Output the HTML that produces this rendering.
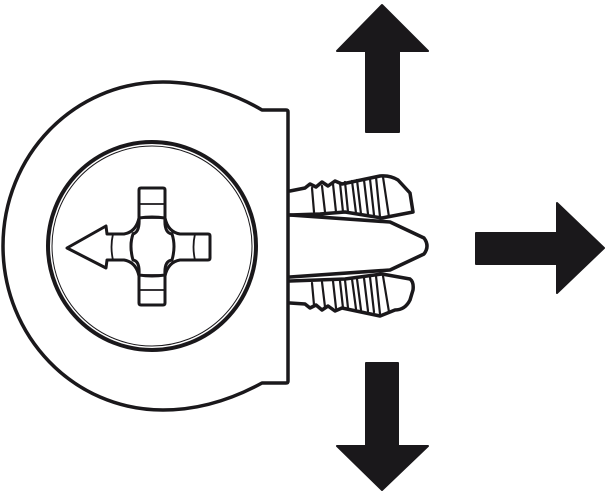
<!DOCTYPE html>
<html><head><style>html,body{margin:0;padding:0;background:#fff}svg{display:block}</style></head><body>
<svg width="608" height="492" viewBox="0 0 608 492" xmlns="http://www.w3.org/2000/svg">
<g fill="none" stroke="#1a181b" stroke-width="3.5" stroke-linejoin="round" stroke-linecap="round">
<path d="M262,110 L286,110 Q288,110 288,112 L288,381 Q288,383 286,383 L262,383 C240,395 205,410 163,410 C73,410 3,336 3,246 C3,156 73,82 163,82 C205,82 240,97 262,110 Z"/>
<circle cx="152" cy="246" r="104" stroke-width="4"/>
<circle cx="152" cy="246" r="100" stroke-width="1"/>
<path d="M141,188 L163,188 Q165,188 165,190 L165,218 Q168,232 180,234 L208,234 Q210,234 210,236 L210,258 Q210,260 208,260 L180,260 Q168,262 165,276 L165,303 Q165,305 163,305 L141,305 Q139,305 139,303 L139,276 Q136,262 124,260 L107,260 L106,268 L67,248 L106,226 L107,234 L124,234 Q136,232 139,218 L139,190 Q139,188 141,188 Z" stroke-width="3"/>
<path d="M133,233 Q128,246 133,260 M172,233 Q176,246 172,260 M139,275 L165,275 M139,218 L165,218 M139,290 L165,290 M139,204 L165,204 M195,234 Q192,247 195,260 M113,234 Q110,247 113,260" stroke-width="1.8"/>
<path d="M139,218 Q152,216 165,218 Q164,233 172,234 Q176,246 172,260 Q164,261 165,275 Q152,277 139,275 Q140,261 133,260 Q129,246 133,234 Q140,232 139,218 Z" stroke-width="3"/>
<path d="M290,191 L305,188 L310,184 L316,187 L322,182 L328,186 L335,181 L342,184 L380,176 Q390,175 398,180 L410,193 L413,212 L382,218 L345,212 L320,214 L290,215"/>
<path d="M312,188 L314,212 M322,186 L325,212 M333,184 L336,212 M340,183 L343,212 M345,182 L348,212 M352,181 L356,213 M357,180 L361,214 M364,180 L368,214 M370,179 L374,215 M376,177 L380,217 M383,177 L389,217" stroke-width="2.2"/>
<path d="M290,215 L390,222 L424,238 Q430,246 424,254 L390,270 L290,277"/>
<path d="M290,281 L345,279 L382,274 L410,279 Q414,282 413,290 L410,300 Q405,310 395,310 L380,316 L342,308 L335,311 L328,306 L322,310 L316,305 L310,308 L305,304 L290,303"/>
<path d="M312,283 L314,305 M322,282 L325,307 M333,281 L336,308 M340,281 L343,308 M345,280 L348,308 M352,279 L356,309 M357,279 L361,310 M364,278 L368,311 M370,277 L374,312 M376,276 L380,314 M383,276 L389,312" stroke-width="2.2"/>
</g>
<g fill="#1a181b" stroke="#1a181b" stroke-width="2" stroke-linejoin="round">
<path d="M382,5 L428,51 L399,51 L399,132 L366,132 L366,51 L337,51 Z"/>
<path d="M366,363 L398,363 L398,446 L428,446 L382,490 L337,446 L366,446 Z"/>
<path d="M476,233 L557,233 L557,203 L604,248 L557,293 L557,264 L476,264 Z"/>
</g>
</svg>
</body></html>
